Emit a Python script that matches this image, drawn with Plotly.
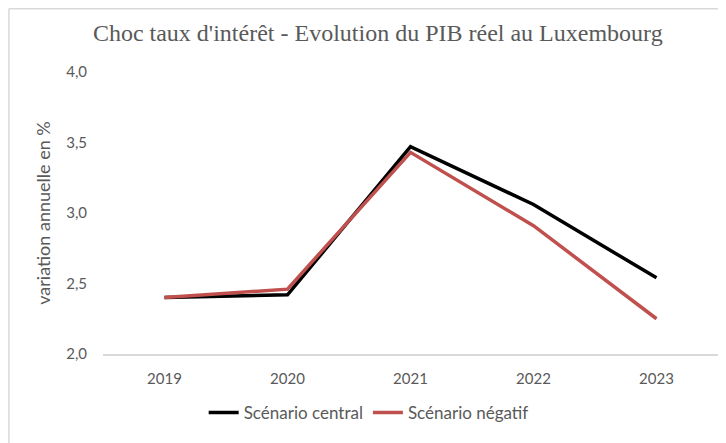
import plotly.graph_objects as go

years = ["2019", "2020", "2021", "2022", "2023"]
central = [2.40, 2.42, 3.47, 3.06, 2.54]
negatif = [2.40, 2.46, 3.43, 2.91, 2.25]

GREY = "#595959"
SANS = "Lato, 'Open Sans', sans-serif"

fig = go.Figure()
fig.add_trace(go.Scatter(x=years, y=central, name="Scénario central", mode="lines",
                         line=dict(color="#000000", width=3.5)))
fig.add_trace(go.Scatter(x=years, y=negatif, name="Scénario négatif", mode="lines",
                         line=dict(color="#C0504D", width=3.5)))

# chart frame (only top and left edges are visible in the crop)
fig.add_shape(type="line", xref="paper", yref="paper", x0=-0.153, x1=2,
              y0=1.224, y1=1.224, line=dict(color="#d9d9d9", width=1.5))
fig.add_shape(type="line", xref="paper", yref="paper", x0=-0.153, x1=-0.153,
              y0=-2, y1=1.224, line=dict(color="#d9d9d9", width=1.5))

fig.update_layout(
    width=718, height=435,
    margin=dict(l=95, r=8, t=64, b=89),
    paper_bgcolor="white", plot_bgcolor="white",
    separators=", ",
    title=dict(text="Choc taux d'intérêt - Evolution du PIB réel au Luxembourg",
               x=0.515, xanchor="center", y=0.943, yanchor="middle",
               font=dict(family="'Liberation Serif', 'Times New Roman', serif",
                         size=24, color=GREY)),
    font=dict(family=SANS, color=GREY, size=15),
    showlegend=True,
    legend=dict(orientation="h", x=0.432, xanchor="center", y=-0.209, yanchor="middle",
                font=dict(family=SANS, size=17, color=GREY)),
    xaxis=dict(range=[-0.5, 4.5], showgrid=False, showline=True,
               linecolor="#d9d9d9", linewidth=1.5, ticks="",
               tickfont=dict(size=15, color=GREY), ticklabelstandoff=10),
    yaxis=dict(range=[2, 4], dtick=0.5, tickformat=".1f", showgrid=False,
               zeroline=False, showline=False, ticks="",
               tickfont=dict(size=15, color=GREY), ticklabelstandoff=15,
               title=dict(text="variation annuelle en %", standoff=10,
                          font=dict(size=18, color=GREY))),
)

fig.write_html("out.html")
